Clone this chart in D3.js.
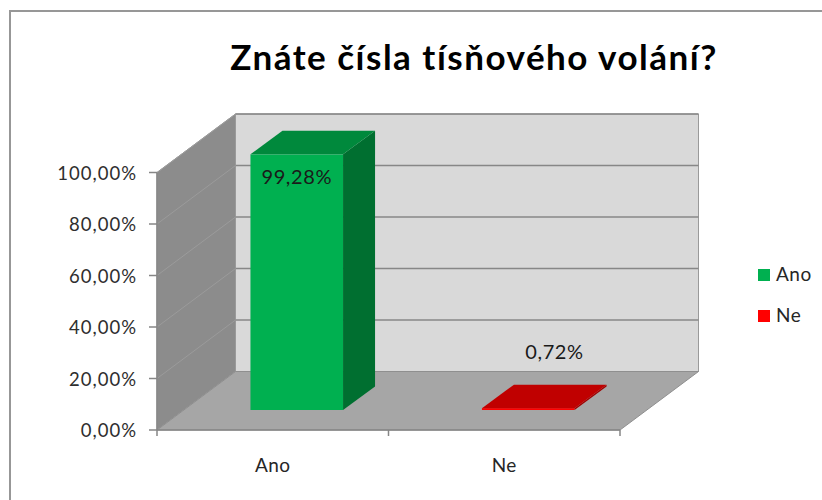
<!DOCTYPE html>
<html>
<head>
<meta charset="utf-8">
<script src="https://cdn.jsdelivr.net/npm/d3@7"></script>
<style>
  body { margin: 0; background: #fff; }
  text { font-family: Lato, "Open Sans", sans-serif; }
</style>
</head>
<body>
<div id="chart"></div>
<script>
const chart_title = "Znáte čísla tísňového volání?";
const categories = ["Ano", "Ne"];
const values = [99.28, 0.72];
const value_labels = ["99,28%", "0,72%"];
const y_ticks = [0, 20, 40, 60, 80, 100];
const y_tick_labels = ["0,00%", "20,00%", "40,00%", "60,00%", "80,00%", "100,00%"];

const width = 822, height = 500;
const floor_left = 157, floor_right = 620, floor_y = 430, top_y = 172.5;
const depth_x = 78.5, depth_y = -58.5;     // floor depth (oblique)
const bar_off_x = 24, bar_off_y = -20;     // bar front plane
const bar_dx = 32, bar_dy = -23.5;         // bar depth

const colors_front = ["#00b050", "#ff0000"];
const colors_top = ["#00893c", "#c00000"];
const colors_side = ["#006f30", "#a00000"];

const svg = d3.select("#chart").append("svg")
    .attr("width", width)
    .attr("height", height);

// chart border
svg.append("rect")
    .attr("x", 10).attr("y", 11)
    .attr("width", 830).attr("height", 520)
    .attr("fill", "#fff")
    .attr("stroke", "#979797")
    .attr("stroke-width", 2);

const x = d3.scaleBand()
    .domain(categories)
    .range([floor_left, floor_right])
    .paddingInner(0.6)
    .paddingOuter(0.3);

const y = d3.scaleLinear()
    .domain([0, 100])
    .range([floor_y, top_y]);

const pts = p => p.map(d => d.join(",")).join(" ");

// back wall
svg.append("polygon")
    .attr("points", pts([
        [floor_left + depth_x, y(100) + depth_y],
        [floor_right + depth_x, y(100) + depth_y],
        [floor_right + depth_x, y(0) + depth_y],
        [floor_left + depth_x, y(0) + depth_y]]))
    .attr("fill", "#d9d9d9")
    .attr("stroke", "#9a9a9a");

// left wall
svg.append("polygon")
    .attr("points", pts([
        [floor_left, y(0)],
        [floor_left, y(100)],
        [floor_left + depth_x, y(100) + depth_y],
        [floor_left + depth_x, y(0) + depth_y]]))
    .attr("fill", "#8c8c8c")
    .attr("stroke", "#9a9a9a");

// floor
svg.append("polygon")
    .attr("points", pts([
        [floor_left, y(0)],
        [floor_left + depth_x, y(0) + depth_y],
        [floor_right + depth_x, y(0) + depth_y],
        [floor_right, y(0)]]))
    .attr("fill", "#a6a6a6")
    .attr("stroke", "#8f8f8f");

// gridlines on back wall and left wall
svg.selectAll(".grid_back")
    .data(y_ticks.filter(t => t > 0))
    .join("line")
    .attr("x1", floor_left + depth_x)
    .attr("x2", floor_right + depth_x)
    .attr("y1", d => y(d) + depth_y)
    .attr("y2", d => y(d) + depth_y)
    .attr("stroke", "#878787")
    .attr("stroke-width", 1.5);

svg.selectAll(".grid_left")
    .data(y_ticks.filter(t => t > 0))
    .join("line")
    .attr("x1", floor_left)
    .attr("x2", floor_left + depth_x)
    .attr("y1", d => y(d))
    .attr("y2", d => y(d) + depth_y)
    .attr("stroke", "#9b9b9b")
    .attr("stroke-width", 1);

// value axis
svg.append("line")
    .attr("x1", floor_left).attr("x2", floor_left)
    .attr("y1", y(100)).attr("y2", y(0))
    .attr("stroke", "#868686").attr("stroke-width", 1.5);

svg.selectAll(".ytick")
    .data(y_ticks)
    .join("line")
    .attr("x1", floor_left - 8).attr("x2", floor_left)
    .attr("y1", d => y(d)).attr("y2", d => y(d))
    .attr("stroke", "#868686").attr("stroke-width", 1.5);

svg.selectAll(".ylabel")
    .data(y_ticks)
    .join("text")
    .attr("x", floor_left - 20)
    .attr("y", d => y(d) + 7)
    .attr("text-anchor", "end")
    .attr("font-size", 18.5)
    .attr("letter-spacing", 1)
    .attr("fill", "#2e2e2e")
    .text((d, i) => y_tick_labels[i]);

// category axis
svg.append("line")
    .attr("x1", floor_left).attr("x2", floor_right)
    .attr("y1", y(0)).attr("y2", y(0))
    .attr("stroke", "#868686").attr("stroke-width", 1.5);

const cat_ticks = [floor_left].concat(categories.map(c => x(c) + x.bandwidth() / 2 + x.step() / 2));
svg.selectAll(".xtick")
    .data(cat_ticks)
    .join("line")
    .attr("x1", d => d).attr("x2", d => d)
    .attr("y1", y(0)).attr("y2", y(0) + 6)
    .attr("stroke", "#868686").attr("stroke-width", 1.5);

svg.selectAll(".xlabel")
    .data(categories)
    .join("text")
    .attr("x", d => x(d) + x.bandwidth() / 2)
    .attr("y", 472)
    .attr("text-anchor", "middle")
    .attr("font-size", 19)
    .attr("letter-spacing", 0.5)
    .attr("fill", "#262626")
    .text(d => d);

// 3D bars
const bars = svg.selectAll(".bar")
    .data(categories.map((c, i) => ({ cat: c, value: values[i], i: i })))
    .join("g");

bars.append("rect")
    .attr("x", d => x(d.cat) + bar_off_x)
    .attr("y", d => y(d.value) + bar_off_y)
    .attr("width", x.bandwidth())
    .attr("height", d => y(0) - y(d.value))
    .attr("fill", d => colors_front[d.i]);

bars.append("polygon")
    .attr("points", d => {
        const x0 = x(d.cat) + bar_off_x, x1 = x0 + x.bandwidth();
        const y0 = y(d.value) + bar_off_y, y1 = y(0) + bar_off_y;
        return pts([[x1, y0], [x1 + bar_dx, y0 + bar_dy], [x1 + bar_dx, y1 + bar_dy], [x1, y1]]);
    })
    .attr("fill", d => colors_side[d.i]);

bars.append("polygon")
    .attr("points", d => {
        const x0 = x(d.cat) + bar_off_x, x1 = x0 + x.bandwidth();
        const y0 = y(d.value) + bar_off_y;
        return pts([[x0, y0], [x0 + bar_dx, y0 + bar_dy], [x1 + bar_dx, y0 + bar_dy], [x1, y0]]);
    })
    .attr("fill", d => colors_top[d.i]);

// data labels: inside top for the tall bar, above the floor for the small one
bars.append("text")
    .attr("x", d => d.value > 50
        ? x(d.cat) + bar_off_x + x.bandwidth() / 2
        : x(d.cat) + x.bandwidth() / 2 + depth_x * 0.64)
    .attr("y", d => d.value > 50
        ? y(d.value) + bar_off_y + 30
        : y(d.value) + depth_y - 11)
    .attr("text-anchor", "middle")
    .attr("font-size", 20)
    .attr("letter-spacing", 0.6)
    .attr("fill", "#1a1a1a")
    .text(d => value_labels[d.i]);

// legend
const legend = svg.append("g")
    .attr("transform", "translate(758, 269)");

legend.selectAll("rect")
    .data(categories)
    .join("rect")
    .attr("x", 0)
    .attr("y", (d, i) => i * 41)
    .attr("width", 12)
    .attr("height", 12)
    .attr("fill", (d, i) => colors_front[i]);

legend.selectAll("text")
    .data(categories)
    .join("text")
    .attr("x", 18)
    .attr("y", (d, i) => i * 41 + 12)
    .attr("font-size", 19)
    .attr("letter-spacing", 0.5)
    .attr("fill", "#262626")
    .text(d => d);

// title
svg.append("text")
    .attr("x", 474)
    .attr("y", 70)
    .attr("text-anchor", "middle")
    .attr("font-size", 35)
    .attr("font-weight", "bold")
    .attr("letter-spacing", 1.5)
    .attr("fill", "#000")
    .text(chart_title);
</script>
</body>
</html>
